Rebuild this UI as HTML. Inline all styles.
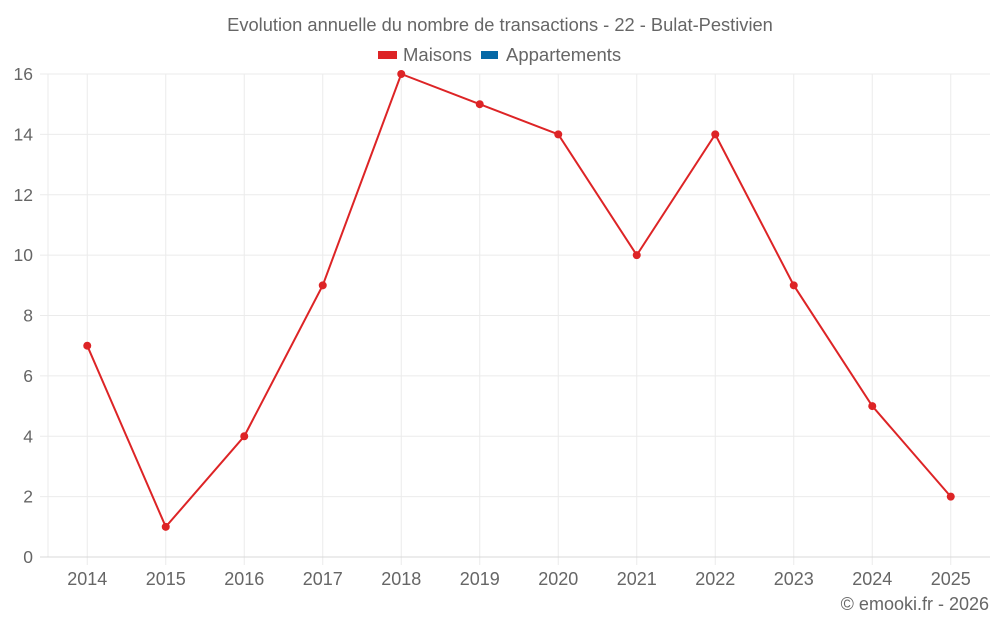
<!DOCTYPE html>
<html><head><meta charset="utf-8"><style>
body{margin:0;background:#fff;font-family:"Liberation Sans",sans-serif}
svg text{font-family:"Liberation Sans",sans-serif;fill:#666}
</style></head><body>
<svg id="c" width="1000" height="625">
<text x="500" y="31" text-anchor="middle" font-size="18.3">Evolution annuelle du nombre de transactions - 22 - Bulat-Pestivien</text>
<g>
<g><rect x="378" y="51" width="19" height="8" fill="#dd2426"/><text x="403" y="61" font-size="18.5">Maisons</text></g>
<g><rect x="481" y="51" width="17" height="8" fill="#0568a6"/><text x="506" y="61" font-size="18.5">Appartements</text></g>
</g>
<g id="grid"></g><g id="axes"></g><g id="series"></g>
<text x="989" y="610" text-anchor="end" font-size="18">© emooki.fr - 2026</text>
</svg>
<script>
const categories=["2014","2015","2016","2017","2018","2019","2020","2021","2022","2023","2024","2025"];
const maisons=[7,1,4,9,16,15,14,10,14,9,5,2];
const yTicks=[0,2,4,6,8,10,12,14,16];
const NS="http://www.w3.org/2000/svg";
const L=48,R=990,T=74,B=557,yMax=16;
const band=(R-L)/categories.length;
const x=i=>L+band*(i+0.5);
const y=v=>B-(v/yMax)*(B-T);
function mk(t,a,p){const e=document.createElementNS(NS,t);for(const k in a)e.setAttribute(k,a[k]);p.appendChild(e);return e;}
const g=document.getElementById('grid'),ax=document.getElementById('axes'),s=document.getElementById('series');
yTicks.forEach(v=>{
 if(v>0){const l=mk('line',{x1:40,x2:R,y1:y(v),y2:y(v),stroke:'#ebebeb'},g);
 
 }
 const t=mk('text',{x:33,y:y(v)+6,'text-anchor':'end','font-size':17.5},ax);t.textContent=v;
 
 
});
const vl=mk('line',{x1:L,x2:L,y1:T,y2:B,stroke:'#ebebeb'},g);


categories.forEach((c,i)=>{
 const l=mk('line',{x1:x(i),x2:x(i),y1:T,y2:B+8,stroke:'#ebebeb'},g);
 
 
 const t=mk('text',{x:x(i),y:B+28,'text-anchor':'middle','font-size':18},ax);t.textContent=c;
 
 
});
const a=mk('line',{x1:40,x2:R,y1:B,y2:B,stroke:'#d8d8d8'},ax);


const p=mk('polyline',{points:maisons.map((v,i)=>x(i)+','+y(v)).join(' '),fill:'none',stroke:'#dd2426','stroke-width':2},s);


maisons.forEach((v,i)=>{
 const c=mk('circle',{cx:x(i),cy:y(v),r:4,fill:'#dd2426'},s);
 
 
});
</script>
</body></html>
